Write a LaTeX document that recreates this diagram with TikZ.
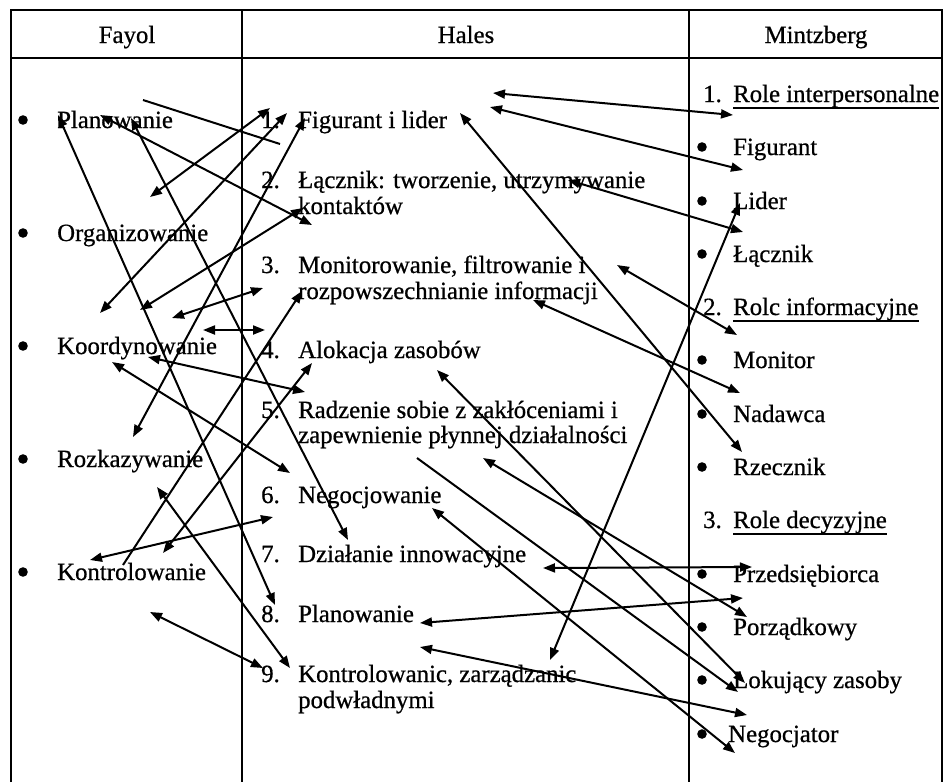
\documentclass[tikz,border=0pt]{standalone}
\usepackage{fontspec}
\setmainfont{Liberation Serif}[FakeBold=0.7]
\usetikzlibrary{arrows.meta,calc}
\begin{document}
\begin{tikzpicture}[x=1pt,y=-1pt,
  txt/.style={anchor=base west,inner sep=0pt,font=\fontsize{24.8}{26}\selectfont},
  hdr/.style={anchor=base,inner sep=0pt,font=\fontsize{24.8}{26}\selectfont},
  rule/.style={line width=1.4pt},
  ul/.style={line width=1.2pt},
  dot/.style={fill=black},
  tip/.tip={Triangle[length=12pt,width=9pt]},
  link/.style={line width=2pt,tip-tip},
  linkend/.style={line width=2pt,-tip},
  bare/.style={line width=2pt}]
\useasboundingbox (0,0) rectangle (945,782);

% table frame
\draw[rule] (11,782) -- (11,10) -- (942,10) -- (942,782);
\draw[rule] (11,58) -- (942,58);
\draw[rule] (242,10) -- (242,782);
\draw[rule] (689,10) -- (689,782);

% headers
\node[hdr] (hfay) at (127,43) {Fayol};
\node[hdr] (hhal) at (466,43) {Hales};
\node[hdr] (hmin) at (816,43) {Mintzberg};

% Fayol
\foreach \n/\y/\t in {f1/128/Planowanie, f2/241/Organizowanie, f3/354/Koordynowanie,
                     f4/467/Rozkazywanie, f5/580/Kontrolowanie} {
  \fill[dot] (23,\y-8) circle[radius=4.8pt];
  \node[txt] (\n) at (57,\y) {\t};
}

% Hales
\node[txt] (hn1) at (261,128) {1.};
\node[txt] (h1)  at (298,128) {Figurant i lider};
\node[txt] (hn2) at (261,188) {2.};
\node[txt] (h2a) at (298,188) {Łącznik: tworzenie, utrzymywanie};
\node[txt] (h2b) at (298,214) {kontaktów};
\node[txt] (hn3) at (261,273) {3.};
\node[txt] (h3a) at (298,273) {Monitorowanie, filtrowanie i};
\node[txt] (h3b) at (298,299) {rozpowszechnianie informacji};
\node[txt] (hn4) at (261,358) {4.};
\node[txt] (h4)  at (298,358) {Alokacja zasobów};
\node[txt] (hn5) at (261,418) {5.};
\node[txt] (h5a) at (298,418) {Radzenie sobie z zakłóceniami i};
\node[txt] (h5b) at (298,443) {zapewnienie płynnej działalności};
\node[txt] (hn6) at (261,503) {6.};
\node[txt] (h6)  at (298,503) {Negocjowanie};
\node[txt] (hn7) at (261,562) {7.};
\node[txt] (h7)  at (298,562) {Działanie innowacyjne};
\node[txt] (hn8) at (261,622) {8.};
\node[txt] (h8)  at (298,622) {Planowanie};
\node[txt] (hn9) at (261,682) {9.};
\node[txt] (h9a) at (298,682) {Kontrolowanic, zarządzanic};
\node[txt] (h9b) at (298,708) {podwładnymi};

% Mintzberg
\node[txt] (mn1) at (703,102) {1.};
\node[txt] (m1)  at (733,102) {Role interpersonalne};
\node[txt] (mn2) at (703,315) {2.};
\node[txt] (m2)  at (733,315) {Rolc informacyjne};
\node[txt] (mn3) at (703,528) {3.};
\node[txt] (m3)  at (733,528) {Role decyzyjne};
\foreach \m in {m1,m2,m3}
  \draw[ul] ($(\m.base west)+(0,6)$) -- ($(\m.base east)+(0,6)$);
\foreach \n/\y/\t in {r1/155/Figurant, r2/209/Lider, r3/262/Łącznik,
                     r4/368/Monitor, r5/422/Nadawca, r6/475/Rzecznik,
                     r7/582/Przedsiębiorca, r8/635/Porządkowy, r9/688/Lokujący zasoby} {
  \fill[dot] (702,\y-8) circle[radius=4.8pt];
  \node[txt] (\n) at (733,\y) {\t};
}
\fill[dot] (702,734) circle[radius=4.8pt];
\node[txt] (r10) at (728,742) {Negocjator};

% connectors with heads at both ends
\foreach \n/\ax/\ay/\bx/\by in {
    B/58/115/275/605, C/131/118/348/540, O/100/115/312/225,
    D4/150/197/270/108, I/100/313/287/113, L6/133/437/305/118,
    N/140/310/303/208, K/172/318/263/288, J/203/330/265/330,
    L/148/357/305/392, M/112/362/290/473, D/157/487/290/668,
    F/90/560/273/517, H/163/553/312/363, E/150/612/263/668,
    P/493/93/733/115, Q/490/107/743/170, R/460/113/742/452,
    S/568/180/743/232, T/617/265/737/335, U/533/300/740/393,
    V/550/660/740/203, W/437/370/745/683, X/483/458/747/617,
    AA/543/568/752/567, BB/432/508/735/753, Z/420/623/743/598,
    Y/420/647/747/715} {
  \coordinate (\n-s) at (\ax,\ay);
  \coordinate (\n-e) at (\bx,\by);
  \draw[link] (\n-s) -- (\n-e);
}

% connectors with one head
\coordinate (G-s) at (123,565);
\coordinate (G-e) at (302,291);
\draw[linkend] (G-s) -- (G-e);
\coordinate (T2-s) at (417,458);
\coordinate (T2-e) at (738,692);
\draw[linkend] (T2-s) -- (T2-e);

% plain stroke
\coordinate (A-s) at (143,100);
\coordinate (A-e) at (280,144);
\draw[bare] (A-s) -- (A-e);
\end{tikzpicture}
\end{document}
